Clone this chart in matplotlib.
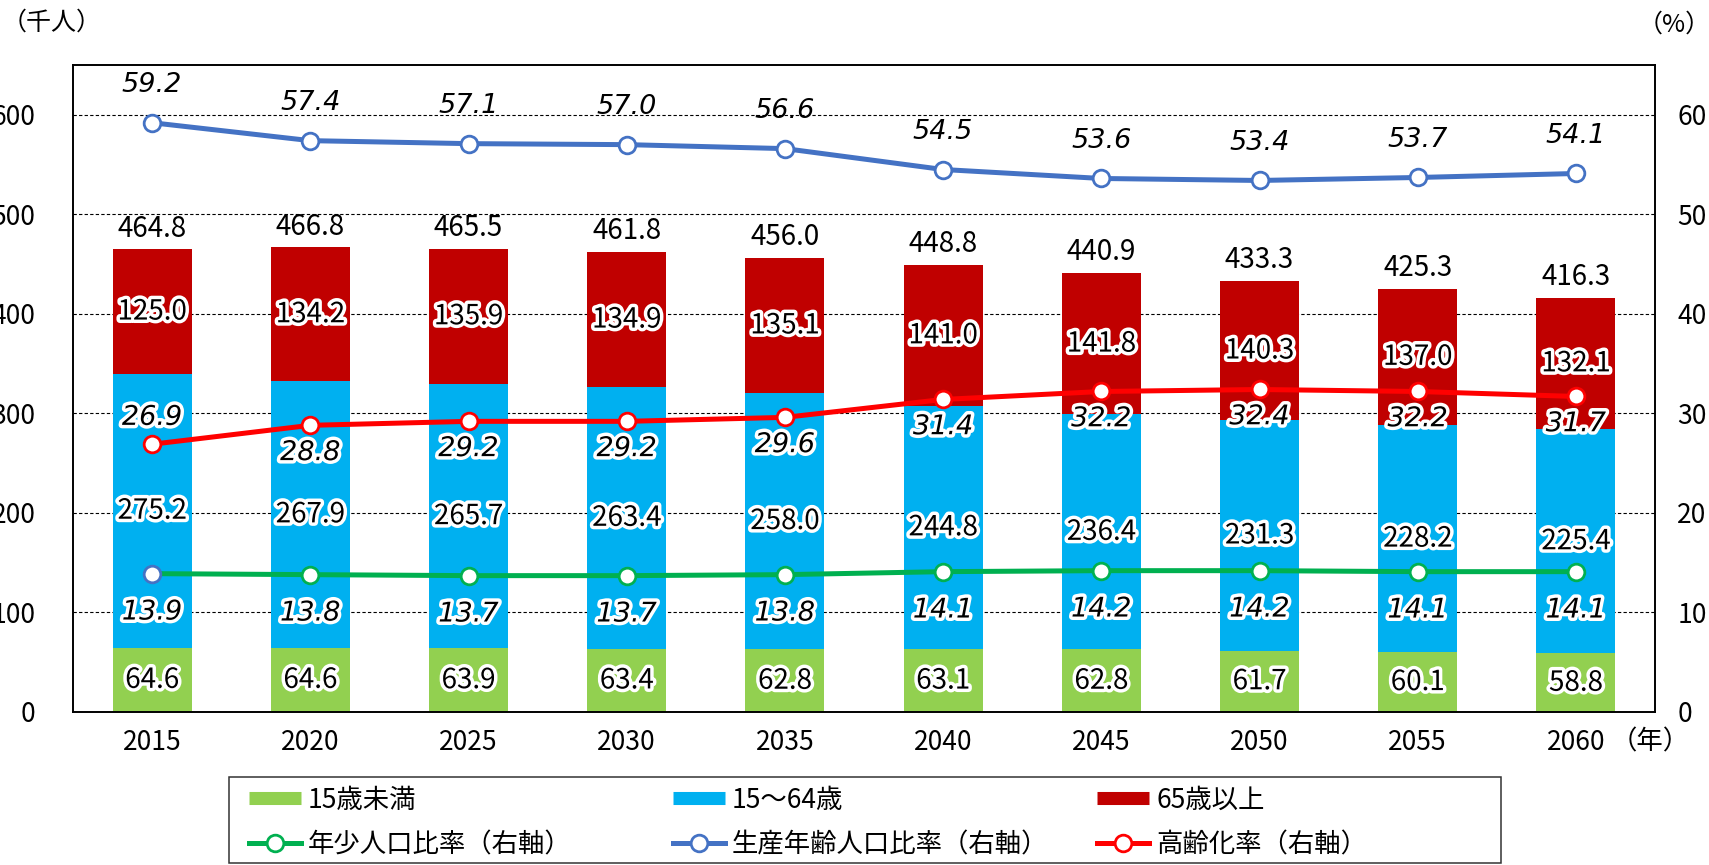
import matplotlib
matplotlib.use("Agg")
import matplotlib.pyplot as plt
import matplotlib.patheffects as pe
from matplotlib.lines import Line2D
from matplotlib.patches import Rectangle
import numpy as np

# ---- data (thousand persons / percent) ----
years = ["2015", "2020", "2025", "2030", "2035", "2040", "2045", "2050", "2055", "2060"]
under15 = [64.6, 64.6, 63.9, 63.4, 62.8, 63.1, 62.8, 61.7, 60.1, 58.8]
age15_64 = [275.2, 267.9, 265.7, 263.4, 258.0, 244.8, 236.4, 231.3, 228.2, 225.4]
over65 = [125.0, 134.2, 135.9, 134.9, 135.1, 141.0, 141.8, 140.3, 137.0, 132.1]
total = [464.8, 466.8, 465.5, 461.8, 456.0, 448.8, 440.9, 433.3, 425.3, 416.3]
young_ratio = [13.9, 13.8, 13.7, 13.7, 13.8, 14.1, 14.2, 14.2, 14.1, 14.1]
working_ratio = [59.2, 57.4, 57.1, 57.0, 56.6, 54.5, 53.6, 53.4, 53.7, 54.1]
aged_ratio = [26.9, 28.8, 29.2, 29.2, 29.6, 31.4, 32.2, 32.4, 32.2, 31.7]

bar_labels = ["15歳未満", "15～64歳", "65歳以上"]
line_labels = ["年少人口比率（右軸）", "生産年齢人口比率（右軸）", "高齢化率（右軸）"]
left_ticks = [0, 100, 200, 300, 400, 500, 600]
right_ticks = [0, 10, 20, 30, 40, 50, 60]

# ---- styling ----
GREEN_BAR, BLUE_BAR, RED_BAR = "#92D050", "#00B0F0", "#C00000"
GREEN_LINE, BLUE_LINE, RED_LINE = "#00B050", "#4472C4", "#FF0000"

plt.rcParams["font.family"] = ["Noto Sans CJK JP", "DejaVu Sans"]

W, H = 1709, 865
fig = plt.figure(figsize=(W / 100, H / 100), dpi=100)
L, R, T, B = 73, 1655, 65, 712
ax = fig.add_axes([L / W, 1 - B / H, (R - L) / W, (B - T) / H])
ax2 = ax.twinx()

x = np.arange(len(years))
bw = 0.5
mid_bottom = np.array(under15)
top_bottom = mid_bottom + np.array(age15_64)
ax.bar(x, under15, bw, color=GREEN_BAR, zorder=2)
ax.bar(x, age15_64, bw, bottom=mid_bottom, color=BLUE_BAR, zorder=2)
ax.bar(x, over65, bw, bottom=top_bottom, color=RED_BAR, zorder=2)

ax.set_xlim(-0.5, len(years) - 0.5)
ax.set_ylim(0, 650)
ax2.set_ylim(0, 65)
ax.set_yticks(left_ticks)
ax2.set_yticks(right_ticks)
ax.set_xticks(x, years)
ax.set_axisbelow(True)
ax.yaxis.grid(True, linestyle=(0, (3, 2)), color="black", linewidth=0.8)

TICK_FS = 19
ax.tick_params(axis="y", length=0, pad=27, labelsize=TICK_FS)
ax.tick_params(axis="x", length=0, pad=12, labelsize=TICK_FS)
ax2.tick_params(axis="y", length=0, pad=16, labelsize=TICK_FS)
for a in (ax, ax2):
    for s in a.spines.values():
        s.set_linewidth(1.2)
        s.set_color("black")
ax2.patch.set_visible(False)

# ---- ratio lines (right axis) ----
LW, MS, MEW = 3.6, 12, 2
ax2.plot(x, working_ratio, color=BLUE_LINE, lw=LW, marker="o", ms=MS,
         mfc="white", mec=BLUE_LINE, mew=MEW, zorder=3)
ax2.plot(x, aged_ratio, color=RED_LINE, lw=LW, marker="o", ms=MS,
         mfc="white", mec=RED_LINE, mew=MEW, zorder=3)
ax2.plot(x, young_ratio, color=GREEN_LINE, lw=LW, marker="o", ms=MS,
         mfc="white", mec=GREEN_LINE, mew=MEW, markevery=list(range(1, len(x))), zorder=3)
ax2.plot(x[:1], young_ratio[:1], linestyle="none", marker="o", ms=MS,
         mfc="white", mec=BLUE_LINE, mew=MEW, zorder=4)

halo = [pe.withStroke(linewidth=5, foreground="white")]
LBL_FS = 20
IT_FS = 19.5
italic = dict(family="DejaVu Sans", style="italic", fontsize=IT_FS,
              ha="center", va="center", textcoords="offset points", zorder=6)

# ---- bar value labels ----
for i in range(len(x)):
    ax2.annotate(f"{under15[i]:.1f}", xy=(x[i], under15[i] / 2), xycoords=ax.transData,
                 ha="center", va="center", fontsize=LBL_FS, path_effects=halo, zorder=5)
    ax2.annotate(f"{age15_64[i]:.1f}", xy=(x[i], mid_bottom[i] + age15_64[i] / 2),
                 xycoords=ax.transData, ha="center", va="center", fontsize=LBL_FS,
                 path_effects=halo, zorder=5)
    ax2.annotate(f"{over65[i]:.1f}", xy=(x[i], top_bottom[i] + over65[i] / 2),
                 xycoords=ax.transData, ha="center", va="center", fontsize=LBL_FS,
                 path_effects=halo, zorder=5)
    ax2.annotate(f"{total[i]:.1f}", xy=(x[i], total[i]), xycoords=ax.transData,
                 xytext=(0, 15), textcoords="offset points",
                 ha="center", va="center", fontsize=LBL_FS, zorder=5)

# ---- ratio labels ----
for i in range(len(x)):
    ax2.annotate(f"{working_ratio[i]:.1f}", xy=(x[i], working_ratio[i]),
                 xytext=(0, 27), **italic)
    dy = 19 if i == 0 else -20
    ax2.annotate(f"{aged_ratio[i]:.1f}", xy=(x[i], aged_ratio[i]),
                 xytext=(0, dy), path_effects=halo, **italic)
    ax2.annotate(f"{young_ratio[i]:.1f}", xy=(x[i], young_ratio[i]),
                 xytext=(0, -28), path_effects=halo, **italic)

# ---- unit captions ----
fig.text(2 / W, 1 - 23 / H, "（千人）", fontsize=18, ha="left", va="center")
fig.text(1638 / W, 1 - 25 / H, "（%）", fontsize=18, ha="left", va="center")
fig.text(1611 / W, 1 - 742 / H, "（年）", fontsize=TICK_FS, ha="left", va="center")

# ---- legend: three equal-width columns inside one frame ----
fig.add_artist(Rectangle((229 / W, 2 / H), 1272 / W, 86 / H, transform=fig.transFigure,
                         fill=False, edgecolor="#333333", linewidth=1.1))
bar_colors = [GREEN_BAR, BLUE_BAR, RED_BAR]
line_colors = [GREEN_LINE, BLUE_LINE, RED_LINE]
col_x = [249, 673, 1097]
row_y = [800, 845]
LEG_FS = 19
em = LEG_FS / 72 * 100
for c in range(3):
    entries = [
        (Line2D([], [], color=bar_colors[c], lw=9.4, solid_capstyle="butt"), bar_labels[c], row_y[0]),
        (Line2D([], [], color=line_colors[c], lw=LW, marker="o", ms=MS, mfc="white",
                mec=line_colors[c], mew=MEW), line_labels[c], row_y[1]),
    ]
    for handle, label, ry in entries:
        fig.legend([handle], [label], loc="center left",
                   bbox_to_anchor=(col_x[c] / W, 1 - ry / H), bbox_transform=fig.transFigure,
                   frameon=False, borderpad=0, borderaxespad=0, fontsize=LEG_FS,
                   handlelength=52 / em, handletextpad=7 / em, numpoints=1)

fig.savefig("out.png", dpi=100)
